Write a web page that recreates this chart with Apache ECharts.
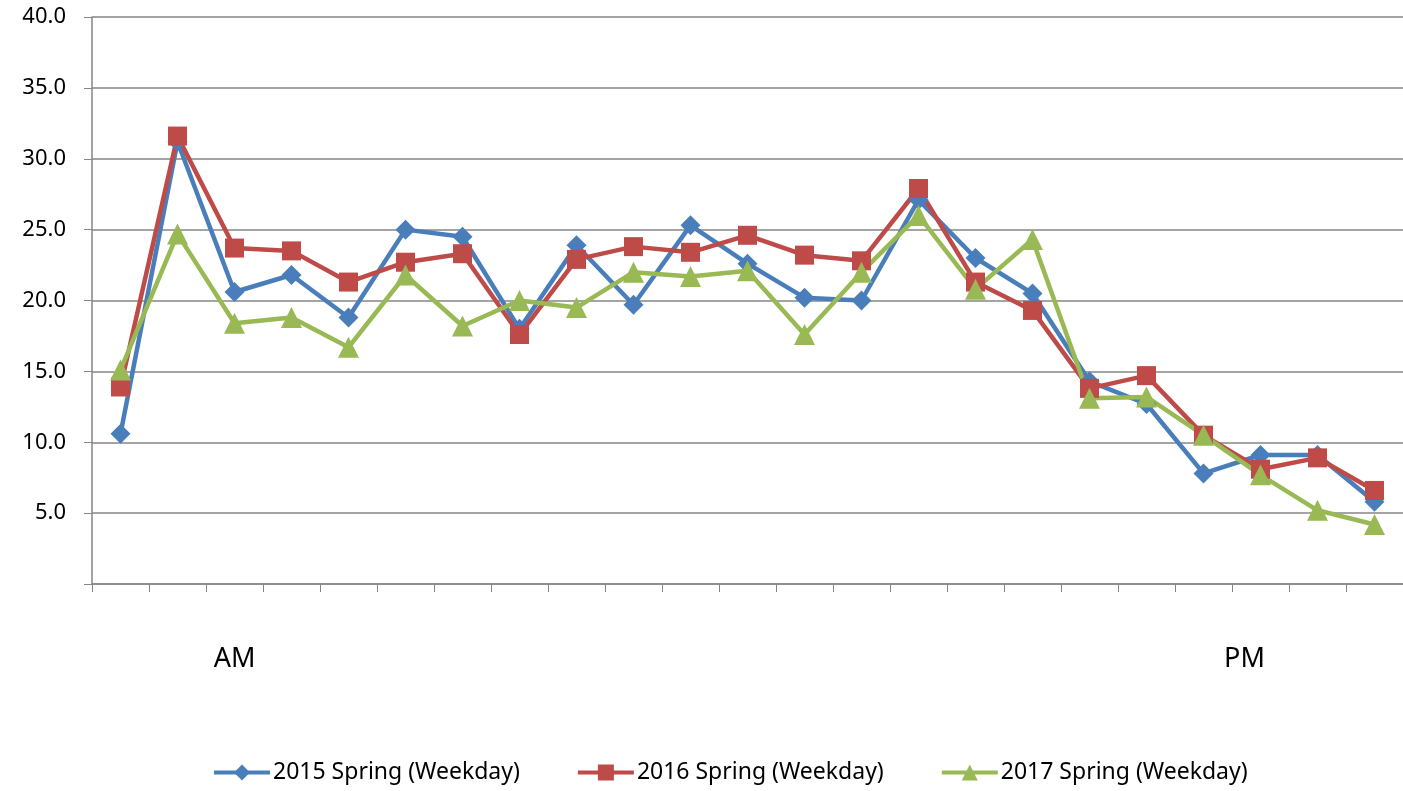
<!DOCTYPE html>
<html>
<head>
<meta charset="utf-8">
<script src="https://cdn.jsdelivr.net/npm/echarts@6/dist/echarts.min.js"></script>
<style>html,body{margin:0;padding:0;background:#fff}#c{width:1403px;height:791px}</style>
</head>
<body>
<div id="c"></div>
<script>
const categories = ['', '', 'AM', '', '', '', '', '', '', '', '', '', '', '', '', '', '', '', '', '', 'PM', '', ''];
const s2015 = [10.6, 31.2, 20.6, 21.8, 18.8, 25.0, 24.5, 18.0, 23.9, 19.7, 25.3, 22.6, 20.2, 20.0, 27.1, 23.0, 20.5, 14.3, 12.7, 7.8, 9.1, 9.1, 5.8];
const s2016 = [13.9, 31.6, 23.7, 23.5, 21.3, 22.7, 23.3, 17.6, 22.9, 23.8, 23.4, 24.6, 23.2, 22.8, 27.9, 21.3, 19.3, 13.8, 14.7, 10.5, 8.1, 8.9, 6.6];
const s2017 = [15.1, 24.7, 18.4, 18.8, 16.7, 21.8, 18.2, 20.0, 19.5, 22.0, 21.7, 22.1, 17.6, 22.0, 26.0, 20.8, 24.3, 13.1, 13.2, 10.5, 7.7, 5.2, 4.2];
const yTicks = {min: 0, max: 40, interval: 5};
const seriesNames = ['2015 Spring (Weekday)', '2016 Spring (Weekday)', '2017 Spring (Weekday)'];

const chart = echarts.init(document.getElementById('c'), null, {renderer: 'canvas'});
const FONT = 'Noto Sans';
const colors = ['#4A7EBB', '#BE4B48', '#98B954'];
function mk(name, data, symbol, color, size) {
  return {
    name: name, type: 'line', data: data, symbol: symbol, symbolSize: size,
    showAllSymbol: true,
    lineStyle: {width: 4.5, color: color},
    itemStyle: {color: color},
    emphasis: {disabled: true}
  };
}
chart.setOption({
  animation: false,
  color: colors,
  grid: {left: 92, right: 0, top: 17, bottom: 207, containLabel: false},
  legend: {
    bottom: 2, left: 207, itemGap: 56, itemWidth: 56, itemHeight: 20,
    textStyle: {fontFamily: FONT, fontSize: 23, color: '#000', padding: [0, 0, 0, -2]},
    lineStyle: {width: 4},
    data: seriesNames
  },
  xAxis: {
    type: 'category', data: categories, boundaryGap: true,
    axisLine: {lineStyle: {color: '#868686', width: 1.5}},
    axisTick: {show: true, interval: 0, length: 8, lineStyle: {color: '#868686', width: 1}},
    axisLabel: {
      interval: 0, margin: 62, color: '#000', fontFamily: FONT, fontSize: 27,
      formatter: function (v) { return v === 'PM' ? '{pm|PM}' : v; },
      rich: {pm: {fontFamily: FONT, fontSize: 27, color: '#000', padding: [0, 32, 0, 0]}}
    },
    splitLine: {show: false}
  },
  yAxis: {
    type: 'value', min: yTicks.min, max: yTicks.max, interval: yTicks.interval,
    axisLine: {show: true, lineStyle: {color: '#868686', width: 1.5}},
    axisTick: {show: true, length: 8, lineStyle: {color: '#868686', width: 1}},
    axisLabel: {
      margin: 26, color: '#000', fontFamily: FONT, fontSize: 22,
      formatter: function (v) { return v === 0 ? '' : v.toFixed(1); }
    },
    splitLine: {lineStyle: {color: '#868686', width: 1.5}}
  },
  series: [
    mk(seriesNames[0], s2015, 'diamond', colors[0], 20),
    mk(seriesNames[1], s2016, 'rect', colors[1], 19),
    mk(seriesNames[2], s2017, 'triangle', colors[2], 21)
  ]
});
</script>
</body>
</html>
